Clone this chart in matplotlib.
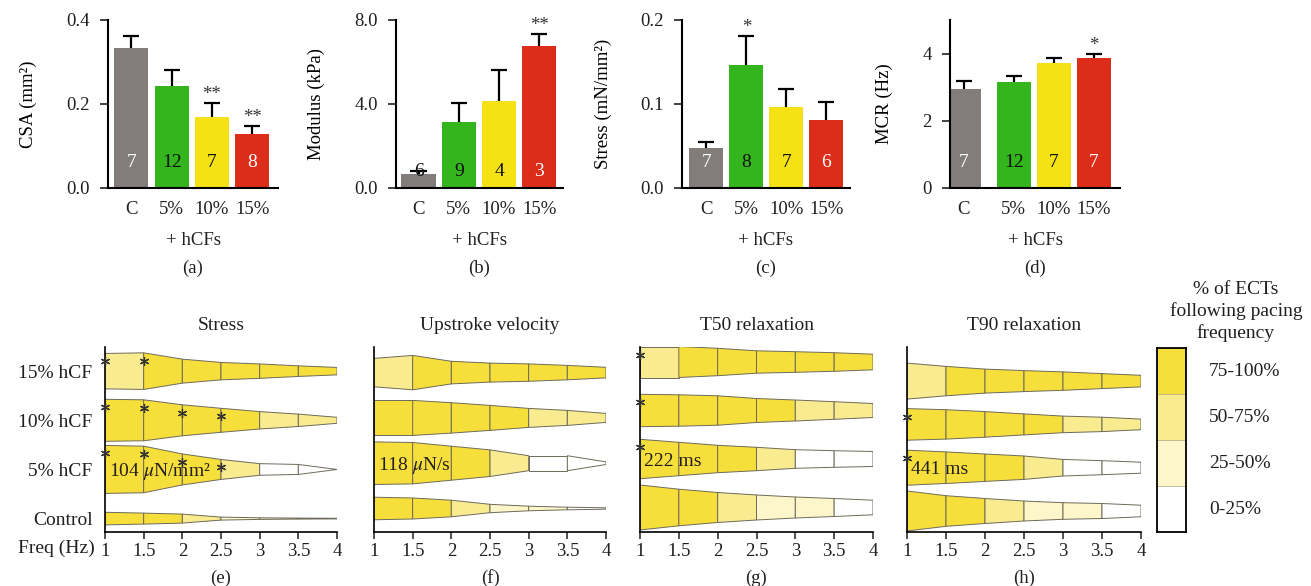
import matplotlib
matplotlib.use("Agg")
import matplotlib.pyplot as plt

plt.rcParams["font.family"] = ["Liberation Serif", "DejaVu Serif"]
plt.rcParams["mathtext.fontset"] = "stix"
plt.rcParams["font.size"] = 13.5
plt.rcParams["text.color"] = "#231f20"
plt.rcParams["xtick.color"] = "#231f20"
plt.rcParams["ytick.color"] = "#231f20"

########
# Data #
########

groups = ["C", "5%", "10%", "15%"]

csa_mean = [0.333, 0.243, 0.169, 0.129]
csa_err = [0.029, 0.038, 0.033, 0.019]
csa_n = [7, 12, 7, 8]
csa_sig = ["", "", "**", "**"]

modulus_mean = [0.67, 3.14, 4.14, 6.76]
modulus_err = [0.14, 0.91, 1.48, 0.57]
modulus_n = [6, 9, 4, 3]
modulus_sig = ["", "", "", "**"]

stress_mean = [0.0476, 0.146, 0.096, 0.081]
stress_err = [0.0066, 0.035, 0.022, 0.021]
stress_n = [7, 8, 7, 6]
stress_sig = ["", "*", "", ""]

mcr_mean = [2.95, 3.16, 3.72, 3.88]
mcr_err = [0.24, 0.18, 0.16, 0.11]
mcr_n = [7, 12, 7, 7]
mcr_sig = ["", "", "", "*"]

freq = [1, 1.5, 2, 2.5, 3, 3.5, 4]
freq_labels = ["1", "1.5", "2", "2.5", "3", "3.5", "4"]
conditions = ["Control", "5% hCF", "10% hCF", "15% hCF"]

# class of % ECTs following pacing for each interval (0: 0-25, 1: 25-50, 2: 50-75, 3: 75-100)
following = [
    [3, 3, 2, 1, 1, 0],
    [3, 3, 3, 2, 0, 0],
    [3, 3, 3, 3, 2, 2],
    [2, 3, 3, 3, 3, 3],
]
following_labels = ["0-25%", "25-50%", "50-75%", "75-100%"]

# half widths of the profiles (relative magnitude of each parameter)
stress_width = [
    [6.3, 5.5, 4.5, 1.5, 0.8, 0.5, 0.3],
    [24, 23.3, 15.5, 10, 5.8, 5, 0],
    [21, 20.5, 15.5, 12, 8.7, 6.2, 3],
    [17.7, 18.3, 12, 8.7, 7.2, 5.3, 3.7],
]
upstroke_width = [
    [11.3, 10.5, 8.3, 4.2, 2.3, 1.3, 0.7],
    [21.3, 20.7, 17, 13.3, 7.5, 7.5, 1.3],
    [17.5, 17.5, 15.2, 12.5, 9.5, 7.5, 4.5],
    [14.2, 17.2, 11.3, 9.5, 8.7, 7.2, 5.3],
]
t50_width = [
    [22.5, 18.3, 15, 12.5, 10.5, 9, 7.3],
    [19.7, 16.7, 13.7, 11.7, 9.3, 8.3, 7.5],
    [16.2, 15.7, 14.7, 12, 10.5, 8.8, 7],
    [15.5, 15.5, 13.7, 11.2, 10.3, 9.3, 7.8],
]
t90_width = [
    [20, 15.3, 12.5, 10, 8.3, 7.5, 5.8],
    [17.5, 15.8, 13.7, 11.7, 8.3, 7, 5.5],
    [15.8, 14.7, 12.8, 10.5, 8.3, 7.2, 5.3],
    [18, 14.7, 12, 10.5, 9.2, 7.5, 5.8],
]

stress_stars = [[], [1, 1.5, 2, 2.5], [1, 1.5, 2, 2.5], [1, 1.5]]
upstroke_stars = [[], [], [], []]
t50_stars = [[], [1], [1], [1]]
t90_stars = [[], [1], [1], []]

stress_ref = "104 $\\mu$N/mm²"
upstroke_ref = "118 $\\mu$N/s"
t50_ref = "222 ms"
t90_ref = "441 ms"

##########
# Layout #
##########

W, H = 1311, 586
fig = plt.figure(figsize=(W / 100, H / 100), dpi=100)


def px_axes(x0, x1, y0, y1):
    return fig.add_axes([x0 / W, (H - y1) / H, (x1 - x0) / W, (y1 - y0) / H])


bar_colors = ["#827d7b", "#34b41d", "#f5e214", "#dc2d1b"]
n_colors = ["white", "#111111", "#111111", "white"]
level_colors = ["#ffffff", "#fdf6cb", "#f9eb8f", "#f7df3b"]

#############
# Bar plots #
#############

bar_panels = [
    # rect, xlim, positions, mean, err, n, sig, ylim, ticks, ticklabels, ylabel, label_x, n_y, letter
    ((108, 278), (-0.58, 3.64), [0, 1, 2, 3], csa_mean, csa_err, csa_n, csa_sig,
     (0, 0.4), [0, 0.2, 0.4], ["0.0", "0.2", "0.4"], "CSA (mm²)", -0.42, 0.15, "(a)"),
    ((396, 563), (-0.56, 3.59), [0, 1, 2, 3], modulus_mean, modulus_err, modulus_n, modulus_sig,
     (0, 8), [0, 4, 8], ["0.0", "4.0", "8.0"], "Modulus (kPa)", -0.425, 0.10, "(b)"),
    ((682, 850), (-0.61, 3.59), [0, 1, 2, 3], stress_mean, stress_err, stress_n, stress_sig,
     (0, 0.2), [0, 0.1, 0.2], ["0.0", "0.1", "0.2"], "Stress (mN/mm²)", -0.415, 0.15, "(c)"),
    ((950, 1120), (-0.34, 3.91), [0, 1.25, 2.25, 3.25], mcr_mean, mcr_err, mcr_n, mcr_sig,
     (0, 5), [0, 2, 4], ["0", "2", "4"], "MCR (Hz)", -0.335, 0.15, "(d)"),
]

for (rect, xlim, pos, mean, err, n, sig, ylim, ticks, tlabels,
     ylabel, label_x, n_y, letter) in bar_panels:
    ax = px_axes(rect[0], rect[1], 20, 188)
    ax.bar(pos, mean, width=0.85, color=bar_colors, zorder=2)
    tops = [m + e for m, e in zip(mean, err)]
    ax.vlines(pos, mean, tops, color="black", lw=1.6, zorder=1)
    ax.hlines(tops, [p - 0.2 for p in pos], [p + 0.2 for p in pos], color="black", lw=1.6, zorder=1)
    for p, m, t, s, k, c in zip(pos, mean, tops, sig, n, n_colors):
        if s:
            ax.text(p, t, s, ha="center", va="bottom", fontsize=13.5, color="#333333")
        # count sits inside the bar, unless the bar is too short for it
        inside = m > ylim[1] * (n_y + 0.05)
        ax.text(p, n_y, str(k), ha="center", va="center", color=c if inside else "#111111",
                fontsize=14, transform=ax.get_xaxis_transform(), zorder=3)
    ax.set_xlim(*xlim)
    ax.set_ylim(*ylim)
    ax.set_yticks(ticks)
    ax.set_yticklabels(tlabels)
    ax.set_xticks(pos)
    ax.set_xticklabels(groups)
    ax.tick_params(axis="x", length=0, pad=9, labelsize=13.5)
    ax.tick_params(axis="y", length=6, width=1.2, pad=7, labelsize=13.5)
    for side in ["top", "right"]:
        ax.spines[side].set_visible(False)
    for side in ["left", "bottom"]:
        ax.spines[side].set_linewidth(1.5)
    ax.set_ylabel(ylabel, fontsize=13.5)
    ax.yaxis.set_label_coords(label_x, 0.5)
    ax.text(0.5, -0.315, "+ hCFs", ha="center", va="center", transform=ax.transAxes, fontsize=13.5)
    ax.text(0.5, -0.48, letter, ha="center", va="center", transform=ax.transAxes, fontsize=13.5)

#################
# Pacing panels #
#################

pacing_panels = [
    # rect, title, widths, stars, ref text, row base, row step, letter
    ((105, 337), "Stress", stress_width, stress_stars, stress_ref, 13.4, 49.15, "(e)"),
    ((374, 606), "Upstroke velocity", upstroke_width, upstroke_stars, upstroke_ref, 23.5, 45.3, "(f)"),
    ((640, 873), "T50 relaxation", t50_width, t50_stars, t50_ref, 24.5, 48.5, "(g)"),
    ((907, 1141), "T90 relaxation", t90_width, t90_stars, t90_ref, 21.0, 43.3, "(h)"),
]

for k, (rect, title, widths, stars, ref, base, step, letter) in enumerate(pacing_panels):
    ax = px_axes(rect[0], rect[1], 347, 532)
    centers = [base + step * i for i in range(len(conditions))]
    for i, c in enumerate(centers):
        hw = widths[i]
        for j in range(len(freq) - 1):
            xs = [freq[j], freq[j + 1], freq[j + 1], freq[j]]
            ys = [c - hw[j], c - hw[j + 1], c + hw[j + 1], c + hw[j]]
            ax.fill(xs, ys, facecolor=level_colors[following[i][j]],
                    edgecolor="#6e6a5a", lw=0.7, zorder=2)
        for f in stars[i]:
            h = hw[freq.index(f)]
            ax.plot(f, c + h - 8, marker=(6, 2, 0), ms=6.5, mew=0.9, color="#333333",
                    zorder=4, clip_on=False)
    ax.text(1.05, centers[1] - 6.5, ref, ha="left", va="baseline", fontsize=14, zorder=5)
    ax.set_xlim(1, 4)
    ax.set_ylim(0, 185)
    ax.set_xticks(freq)
    ax.set_xticklabels(freq_labels)
    ax.tick_params(axis="x", length=5, width=1.1, pad=3, labelsize=13.5)
    if k == 0:
        ax.set_yticks(centers)
        ax.set_yticklabels(conditions)
        ax.tick_params(axis="y", length=0, pad=9, labelsize=14)
        ax.text(0.87, -16 / 185, "Freq (Hz)", ha="right", va="center", fontsize=14,
                transform=ax.get_xaxis_transform(), clip_on=False)
    else:
        ax.set_yticks([])
    for side in ["top", "right"]:
        ax.spines[side].set_visible(False)
    for side in ["left", "bottom"]:
        ax.spines[side].set_linewidth(1.2)
    ax.text(0.5, 1 + 22 / 185, title, ha="center", va="center", transform=ax.transAxes, fontsize=14)
    ax.text(0.5, -46 / 185, letter, ha="center", va="center", transform=ax.transAxes, fontsize=13.5)

##########
# Legend #
##########

lax = px_axes(1157, 1186, 348, 532)
levels = list(range(len(following_labels)))
lax.bar([0] * len(levels), [1] * len(levels), bottom=levels, width=1,
        color=level_colors, edgecolor="#b5b08a", lw=0.5)
lax.set_xlim(-0.5, 0.5)
lax.set_ylim(0, 4)
lax.set_xticks([])
lax.set_yticks([])
for side in lax.spines.values():
    side.set_linewidth(1.3)
for lv, lab in zip(levels, following_labels):
    lax.text(1.3, lv + 0.5, lab, ha="left", va="center", fontsize=14, clip_on=False)
lax.text(2.22, 4.8, "% of ECTs\nfollowing pacing\nfrequency", ha="center", va="center",
         fontsize=14, linespacing=1.3, clip_on=False)

fig.savefig("out.png", dpi=100)
